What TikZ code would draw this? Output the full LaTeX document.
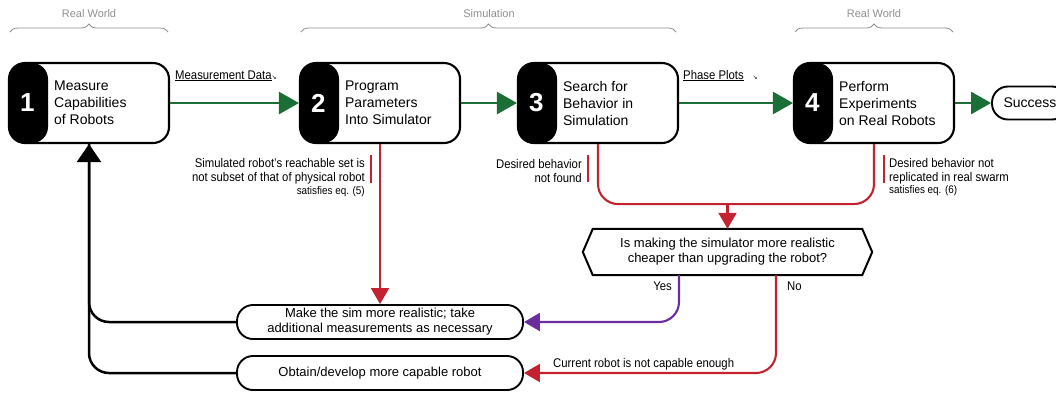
\documentclass[tikz,border=0pt]{standalone}
\usepackage{fontspec}
\setmainfont{Liberation Sans}
\newfontfamily\condfont[FakeStretch=0.9]{Liberation Sans}
\newfontfamily\symfont{DejaVu Sans}
\usetikzlibrary{arrows.meta,decorations.pathreplacing}

\definecolor{flowgreen}{HTML}{1B6E36}
\definecolor{flowred}{HTML}{C42231}
\definecolor{flowpurple}{HTML}{6B2D9E}
\definecolor{bracegray}{HTML}{8F8F8F}

\tikzset{
  stepbox/.style={draw, line width=2.1pt, rounded corners=16pt,
    minimum width=160pt, minimum height=80pt,
    path picture={\fill (path picture bounding box.south west)
      rectangle ([xshift=39pt]path picture bounding box.north west);}},
  stepnum/.style={text=white, font=\bfseries\fontsize{26}{26}\selectfont},
  steptext/.style={anchor=west, inner sep=0pt, align=left, font=\fontsize{14}{17}\selectfont},
  pillbox/.style={draw, line width=1.9pt, rounded corners=16pt, minimum width=286pt,
    minimum height=34pt, align=center, font=\fontsize{13}{15}\selectfont},
  condlbl/.style={inner sep=0pt, font=\condfont\fontsize{12.6}{14}\selectfont},
  eqlbl/.style={inner sep=0pt, font=\condfont\fontsize{11}{12}\selectfont},
  redbar/.style={draw=flowred, line width=1.8pt},
  redline/.style={draw=flowred, line width=2.1pt, rounded corners=20pt},
  redarr/.style={redline, -{Triangle[length=16pt,width=18pt]}},
  purparr/.style={draw=flowpurple, line width=2.1pt, rounded corners=20pt, -{Triangle[length=16pt,width=18pt]}},
  blkline/.style={line width=2.5pt, rounded corners=20pt},
  blkarr/.style={blkline, -{Triangle[length=18pt,width=24pt]}},
}

\begin{document}
\begin{tikzpicture}[x=1pt,y=-1pt]
\useasboundingbox (0,0) rectangle (1056,392);

% phases on top
\begin{scope}[every node/.style={text=bracegray, font=\fontsize{11}{13}\selectfont}]
  \node (rw1) at (89,14) {Real World};
  \node (sim) at (489,14) {Simulation};
  \node (rw2) at (874,14) {Real World};
\end{scope}
\begin{scope}[draw=bracegray, line width=.8pt, decoration={brace, amplitude=8pt}]
  \draw[decorate] (10,32) -- (168,32);
  \draw[decorate] (301,32) -- (676,32);
  \draw[decorate] (795,32) -- (953,32);
\end{scope}

% the four steps
\begin{scope}[every node/.style={stepbox}]
  \node (s1) at (89,103)  {};
  \node (s2) at (380,103) {};
  \node (s3) at (598,103) {};
  \node (s4) at (874,103) {};
\end{scope}
\node[stepnum] (n1) at ([xshift=19.5pt]s1.west) {1};
\node[stepnum] (n2) at ([xshift=19.5pt]s2.west) {2};
\node[stepnum] (n3) at ([xshift=19.5pt]s3.west) {3};
\node[stepnum] (n4) at ([xshift=19.5pt]s4.west) {4};
\node[steptext] (t1) at ([xshift=46pt]s1.west) {Measure\\Capabilities\\of Robots};
\node[steptext] (t2) at ([xshift=46pt]s2.west) {Program\\Parameters\\Into Simulator};
\node[steptext] (t3) at ([xshift=46pt]s3.west) {Search for\\Behavior in\\Simulation};
\node[steptext] (t4) at ([xshift=46pt]s4.west) {Perform\\Experiments\\on Real Robots};
\node[draw, line width=1.9pt, rounded corners=16pt, minimum width=76pt, minimum height=33pt,
  font=\fontsize{14}{17}\selectfont] (ok) at (1030,103) {Success};

\begin{scope}[every edge/.style={draw=flowgreen, line width=2.6pt, -{Triangle[length=20pt,width=22pt]}}]
  \path (s1) edge (s2);
  \path (s2) edge (s3);
  \path (s3) edge (s4);
  \path (s4) edge (ok);
\end{scope}
\node[condlbl, anchor=base west] (md) at (175,79)
  {\underline{Measurement Data}{\symfont\fontsize{6}{6}\selectfont ↘}};
\node[condlbl, anchor=base west] (pp) at (683,79)
  {\underline{Phase Plots}\hspace{9pt}{\symfont\fontsize{6}{6}\selectfont ↘}};

% failure notes
\node[condlbl, anchor=east, align=right] (r2) at (365,171)
  {Simulated robot’s reachable set is\\not subset of that of physical robot};
\node[eqlbl, anchor=base east] (e5) at (365,194) {satisfies eq. (5)};
\node[condlbl, anchor=east, align=right] (r3) at (582,171) {Desired behavior\\not found};
\node[condlbl, anchor=west, align=left] (r4) at (889,171)
  {Desired behavior not\\replicated in real swarm};
\node[eqlbl, anchor=base west] (e6) at (889,193) {satisfies eq. (6)};
\draw[redbar] (371,155) -- (371,183);
\draw[redbar] (588,155) -- (588,182);
\draw[redbar] (884,155) -- (884,183);

% decision and fixes
\node[font=\fontsize{13}{15}\selectfont, align=center, minimum width=289pt, minimum height=46pt]
  (q) at (727.5,252) {Is making the simulator more realistic\\cheaper than upgrading the robot?};
\draw[line width=2pt] ([xshift=10pt]q.north west) -- ([xshift=-10pt]q.north east) -- (q.east)
  -- ([xshift=-10pt]q.south east) -- ([xshift=10pt]q.south west) -- (q.west) -- cycle;
\node[pillbox] (mk) at (380,322) {Make the sim more realistic; take\\additional measurements as necessary};
\node[pillbox] (ob) at (380,373) {Obtain/develop more capable robot};

\draw[redarr] (s2.south) -- (mk.north);
\draw[redline] (s3.south) -- ++(0,60) -| (s4.south);
\coordinate (mrg) at (727.5,203);
\draw[redarr] (mrg) -- (q.north);
\draw[purparr] ([xshift=-48.5pt]q.south) |- (mk.east);
\draw[redarr] ([xshift=48.5pt]q.south) |- (ob.east);
\node[condlbl, anchor=base east] (yes) at (672,290) {Yes};
\node[condlbl, anchor=base west] (no) at (787,290) {No};
\node[condlbl, anchor=base west] (cap) at (553,367) {Current robot is not capable enough};

\draw[blkline] (mk.west) -| (s1.south);
\draw[blkarr] (ob.west) -| (s1.south);

\end{tikzpicture}
\end{document}
